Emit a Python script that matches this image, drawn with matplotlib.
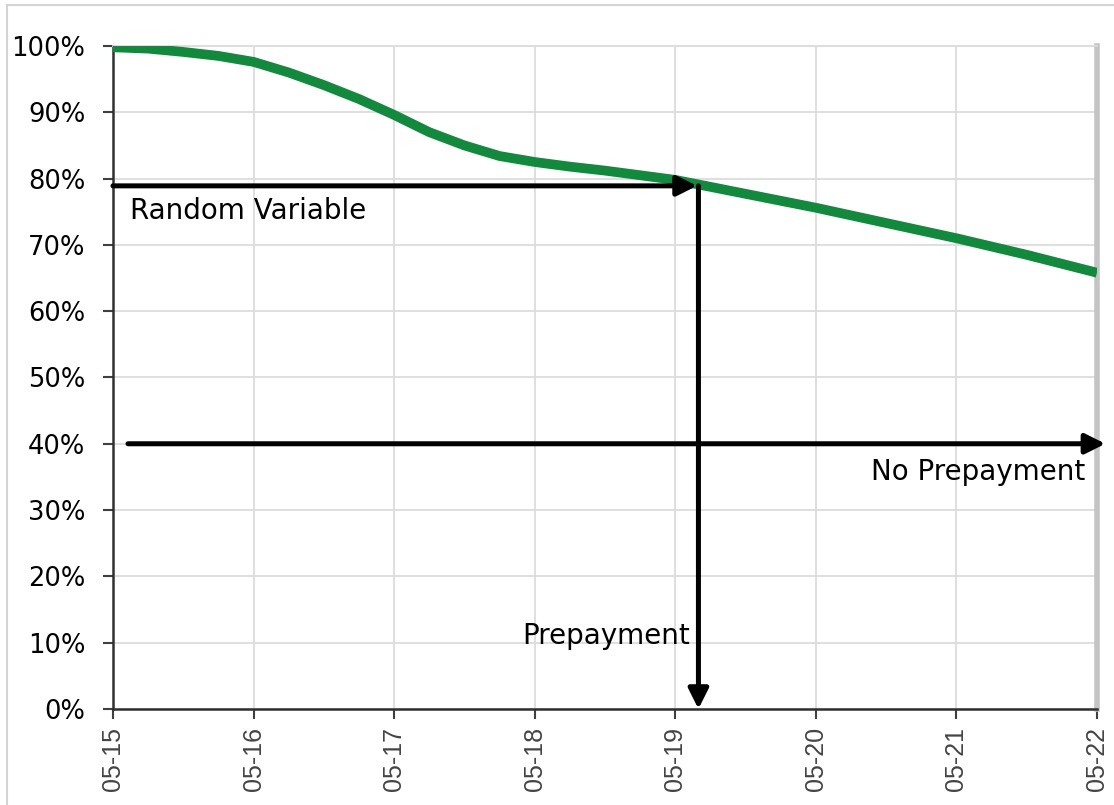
import matplotlib.pyplot as plt
from matplotlib.patches import Rectangle

# survival curve, quarter-year steps from May 2015
years = [0, 0.25, 0.5, 0.75, 1, 1.25, 1.5, 1.75, 2, 2.25, 2.5, 2.75, 3, 3.25,
         3.5, 3.75, 4, 4.5, 5, 5.5, 6, 6.5, 7]
survival = [0.998, 0.996, 0.991, 0.985, 0.976, 0.960, 0.941, 0.920, 0.896,
            0.870, 0.850, 0.834, 0.825, 0.818, 0.812, 0.805, 0.798,
            0.777, 0.756, 0.733, 0.710, 0.685, 0.658]

tick_labels = ['05-15', '05-16', '05-17', '05-18', '05-19', '05-20', '05-21', '05-22']
y_ticks = [i / 10 for i in range(11)]

rv_level = 0.789     # random variable draw
rv_time = 4.155      # where it crosses the curve
no_prepay_level = 0.40

fig = plt.figure(figsize=(11.14, 8.05), dpi=100)
ax = fig.add_axes([0.1014, 0.1193, 0.8833, 0.8236])

ax.plot(years, survival, color='#13893d', lw=7, solid_capstyle='butt',
        solid_joinstyle='round', zorder=3)

arrow = dict(arrowstyle='-|>', lw=3.6, color='black', mutation_scale=30,
             shrinkA=0, shrinkB=0)
ax.annotate('', xy=(rv_time, rv_level), xytext=(0, rv_level),
            arrowprops=arrow, annotation_clip=False, zorder=4)
ax.annotate('', xy=(rv_time + 0.01, 0), xytext=(rv_time + 0.01, rv_level),
            arrowprops=arrow, annotation_clip=False, zorder=4)
ax.annotate('', xy=(7.06, no_prepay_level), xytext=(0.107, no_prepay_level),
            arrowprops=arrow, annotation_clip=False, zorder=4)

txt = dict(fontsize=20, va='center', family='DejaVu Sans', color='black')
ax.text(0.12, 0.751, 'Random Variable', ha='left', **txt)
ax.text(6.915, 0.357, 'No Prepayment', ha='right', **txt)
ax.text(4.105, 0.11, 'Prepayment', ha='right', **txt)

ax.set_xlim(0, 7)
ax.set_ylim(0, 1)
ax.set_xticks(range(len(tick_labels)))
ax.set_xticklabels(tick_labels, rotation=90, fontsize=18, family='Liberation Sans',
                   color='#444444')
ax.set_yticks(y_ticks)
ax.set_yticklabels([f'{int(round(v * 100))}%' for v in y_ticks], fontsize=18.5,
                   family='DejaVu Sans')

ax.grid(True, color='#dcdcdc', lw=1.3, zorder=0)
ax.set_axisbelow(True)
ax.tick_params(axis='both', length=7, width=1.5, color='#404040', direction='out')
ax.tick_params(axis='y', pad=13)
ax.tick_params(axis='x', pad=6)

for side in ['left', 'bottom']:
    ax.spines[side].set_color('#303030')
    ax.spines[side].set_linewidth(1.8)
ax.spines['top'].set_color('#dcdcdc')
ax.spines['top'].set_linewidth(1.3)
ax.spines['right'].set_color('#c4c4c4')
ax.spines['right'].set_linewidth(4)

fig.patches.append(Rectangle((0.006, -0.01), 1.2, 1.004, transform=fig.transFigure,
                             fill=False, edgecolor='#d4d4d4', lw=1.5))

fig.savefig('out.png', dpi=100)
